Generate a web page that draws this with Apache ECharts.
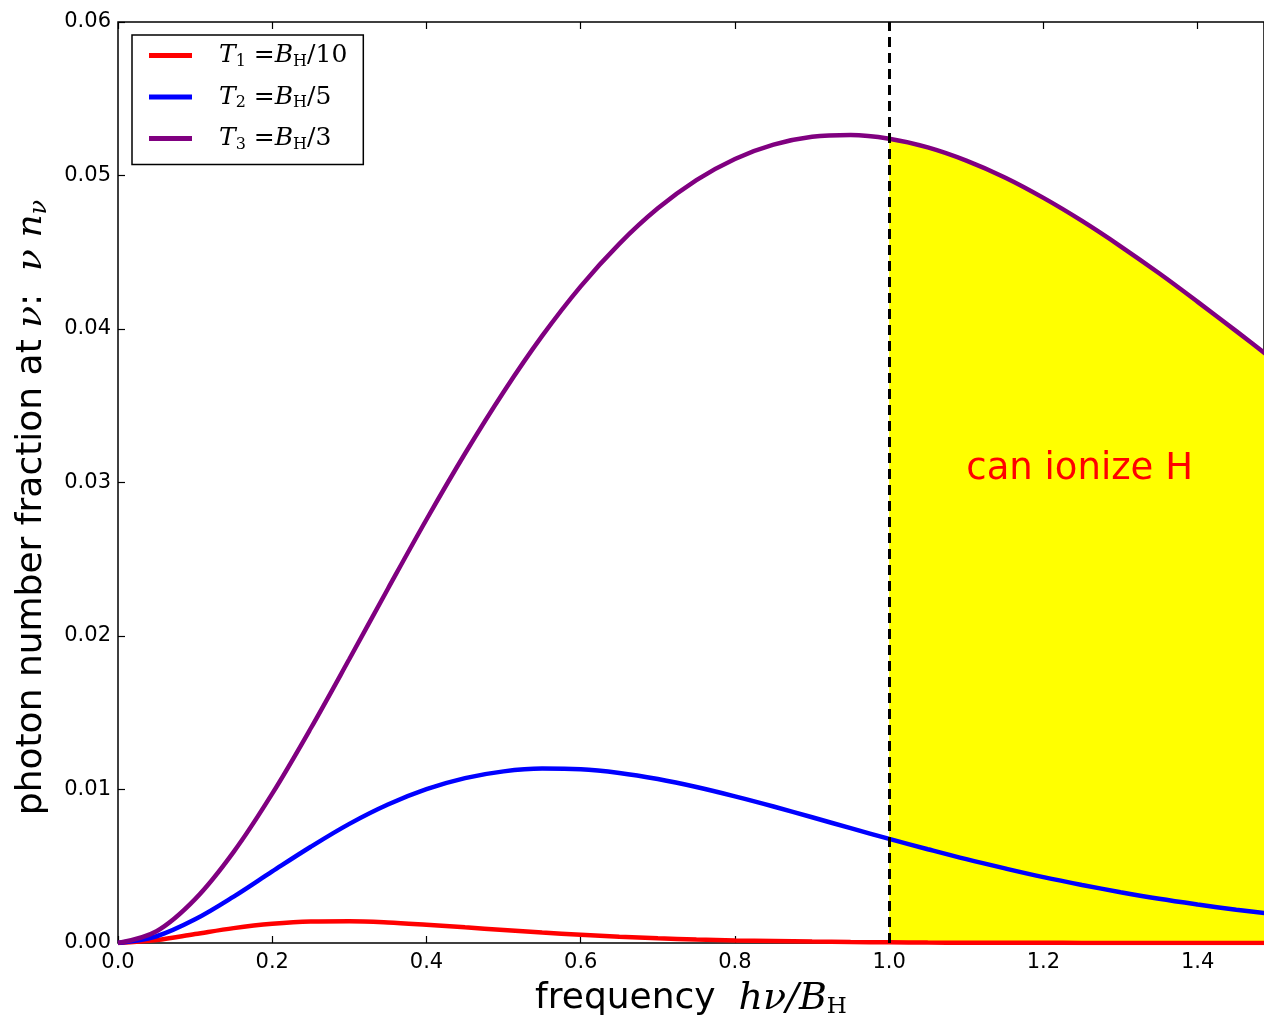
<!DOCTYPE html>
<html>
<head>
<meta charset="utf-8">
<script src="https://cdn.jsdelivr.net/npm/echarts@6/dist/echarts.min.js"></script>
<style>
  html, body { margin: 0; padding: 0; background: #fff; }
  #chart { width: 1264px; height: 1026px; }
</style>
</head>
<body>
<div id="chart"></div>
<script>
// frequency h nu / B_H
const freq = [0, 0.05, 0.1, 0.15, 0.2, 0.25, 0.3, 0.35, 0.4, 0.45, 0.5, 0.55, 0.6, 0.65, 0.7, 0.75,
  0.8, 0.85, 0.9, 0.95, 1.0, 1.05, 1.1, 1.15, 1.2, 1.25, 1.3, 1.35, 1.4, 1.45, 1.5];
// T1 = B_H/10
const fracT1 = [0, 0.00019, 0.00058, 0.00097, 0.00125, 0.00140, 0.00142, 0.00134, 0.00119, 0.00102,
  0.00085, 0.00068, 0.00054, 0.00041, 0.00031, 0.00023, 0.00017, 0.00013, 0.00009, 0.00006, 0.000045,
  0.00003, 0.00002, 0.000015, 0.00001, 0.000007, 0.000005, 0.000003, 0.000002, 0.0000015, 0.000001];
// T2 = B_H/5
const fracT2 = [0, 0.00044, 0.00154, 0.00302, 0.00466, 0.00627, 0.00776, 0.00902, 0.01002, 0.01074,
  0.01118, 0.01136, 0.01132, 0.01108, 0.01068, 0.01016, 0.00955, 0.00889, 0.00819, 0.00748, 0.00678,
  0.00611, 0.00546, 0.00486, 0.00429, 0.00378, 0.00331, 0.00288, 0.00251, 0.00217, 0.00187];
// T3 = B_H/3
const fracT3 = [0, 0.00077, 0.00286, 0.00594, 0.00973, 0.01399, 0.01850, 0.02308, 0.02759, 0.03189,
  0.03590, 0.03955, 0.04278, 0.04555, 0.04786, 0.04970, 0.05108, 0.05201, 0.05252, 0.05264, 0.05240,
  0.05183, 0.05097, 0.04987, 0.04854, 0.04704, 0.04539, 0.04363, 0.04177, 0.03986, 0.03791];
const xTicks = [0, 0.2, 0.4, 0.6, 0.8, 1.0, 1.2, 1.4];
const yTicks = [0, 0.01, 0.02, 0.03, 0.04, 0.05, 0.06];
const xMax = 1.486;   // the picture is cut just short of 1.5
const ionizeEdge = 1.0;
const noteAt = [1.1, 0.03];

const names = ['T1', 'T2', 'T3'];
const legendText = {
  T1: '{i|T}{s|1}{n| =}{i|B}{h|H}{n|/10}',
  T2: '{i|T}{s|2}{n| =}{i|B}{h|H}{n|/5}',
  T3: '{i|T}{s|3}{n| =}{i|B}{h|H}{n|/3}'
};

function pairs(ys) {
  return freq.map((x, i) => [x, ys[i]]);
}
const fillData = pairs(fracT3).filter(p => p[0] >= ionizeEdge);

const chart = echarts.init(document.getElementById('chart'));
const serif = '"DejaVu Serif", "Liberation Serif", serif';
const sans = '"DejaVu Sans", sans-serif';
const smoothness = 0.35;

const option = {
  animation: false,
  backgroundColor: '#fff',
  grid: {
    left: 118, top: 22, right: 0, bottom: 83,
    show: true, borderColor: '#000', borderWidth: 1.5, backgroundColor: 'transparent'
  },
  legend: {
    data: names,
    orient: 'vertical',
    left: 132, top: 35,
    backgroundColor: '#fff',
    borderColor: '#000', borderWidth: 1.5, borderRadius: 0,
    padding: [8, 16, 12, 17],
    itemGap: 15,
    itemWidth: 43, itemHeight: 5,
    icon: 'rect',
    formatter: n => legendText[n],
    textStyle: {
      padding: [0, 0, 0, 22],
      rich: {
        i: { fontFamily: serif, fontStyle: 'italic', fontSize: 25, color: '#000', lineHeight: 28 },
        n: { fontFamily: serif, fontSize: 25, color: '#000', lineHeight: 28 },
        s: { fontFamily: serif, fontSize: 16, color: '#000', lineHeight: 14, verticalAlign: 'bottom' },
        h: { fontFamily: serif, fontSize: 16, color: '#000', lineHeight: 14, verticalAlign: 'bottom' }
      }
    }
  },
  xAxis: [{
    type: 'value', min: 0, max: xMax, interval: 0.2,
    name: '{t|frequency  }{m|hν/B}{s|H}',
    nameLocation: 'middle', nameGap: 36,
    nameTextStyle: {
      rich: {
        t: { fontFamily: sans, fontSize: 36, color: '#000', lineHeight: 40 },
        m: { fontFamily: serif, fontStyle: 'italic', fontSize: 38, color: '#000', lineHeight: 40 },
        s: { fontFamily: serif, fontSize: 23, color: '#000', lineHeight: 20, verticalAlign: 'bottom' }
      }
    },
    axisLine: { show: false },
    axisTick: { show: true, inside: true, length: 7, lineStyle: { color: '#000', width: 1.2 } },
    axisLabel: {
      margin: 9, fontFamily: sans, fontSize: 21, color: '#000', showMaxLabel: false,
      formatter: v => xTicks.some(t => Math.abs(t - v) < 1e-9) ? v.toFixed(1) : ''
    },
    splitLine: { show: false }
  }, {
    type: 'value', min: 0, max: xMax, interval: 0.2, position: 'top',
    axisLine: { show: false },
    axisTick: { show: true, inside: true, length: 7, lineStyle: { color: '#000', width: 1.2 } },
    axisLabel: { show: false },
    splitLine: { show: false }
  }],
  yAxis: {
    type: 'value', min: 0, max: 0.06, interval: 0.01,
    name: '{t|photon number fraction at }{m|ν}{t|:  }{m|ν n}{s|ν}',
    nameLocation: 'middle', nameGap: 66, nameRotate: 90,
    nameTextStyle: {
      padding: [0, 50, 0, 0],
      rich: {
        t: { fontFamily: sans, fontSize: 36, color: '#000', lineHeight: 40 },
        m: { fontFamily: serif, fontStyle: 'italic', fontSize: 36, color: '#000', lineHeight: 40 },
        s: { fontFamily: serif, fontStyle: 'italic', fontSize: 24, color: '#000', lineHeight: 20, verticalAlign: 'bottom' }
      }
    },
    axisLine: { show: false },
    axisTick: { show: true, inside: true, length: 7, lineStyle: { color: '#000', width: 1.2 } },
    axisLabel: {
      margin: 7, fontFamily: sans, fontSize: 21, color: '#000',
      formatter: v => yTicks.some(t => Math.abs(t - v) < 1e-9) ? v.toFixed(2) : ''
    },
    splitLine: { show: false }
  },
  series: [
    {
      name: 'ionizing',
      type: 'line',
      data: fillData,
      smooth: smoothness,
      showSymbol: false, symbol: 'none',
      lineStyle: { width: 0 },
      areaStyle: { color: '#ffff00', opacity: 1 },
      silent: true,
      markPoint: {
        symbol: 'circle', symbolSize: 0,
        data: [{ coord: noteAt }],
        label: {
          show: true, position: [0, 0], align: 'left', verticalAlign: 'middle',
          offset: [0, -13],
          formatter: 'can ionize H',
          fontFamily: sans, fontSize: 37, color: '#ff0000'
        }
      }
    },
    {
      name: 'T1', type: 'line', data: pairs(fracT1),
      smooth: smoothness, showSymbol: false, symbol: 'none',
      color: '#ff0000', lineStyle: { width: 4.5, color: '#ff0000' }
    },
    {
      name: 'T2', type: 'line', data: pairs(fracT2),
      smooth: smoothness, showSymbol: false, symbol: 'none',
      color: '#0000ff', lineStyle: { width: 4.5, color: '#0000ff' }
    },
    {
      name: 'T3', type: 'line', data: pairs(fracT3),
      smooth: smoothness, showSymbol: false, symbol: 'none',
      color: '#800080', lineStyle: { width: 4.5, color: '#800080' },
      markLine: {
        silent: true, symbol: 'none',
        label: { show: false },
        lineStyle: { color: '#000', width: 3, type: [10, 6] },
        data: [{ xAxis: ionizeEdge }]
      }
    }
  ]
};
chart.setOption(option);
</script>
</body>
</html>
